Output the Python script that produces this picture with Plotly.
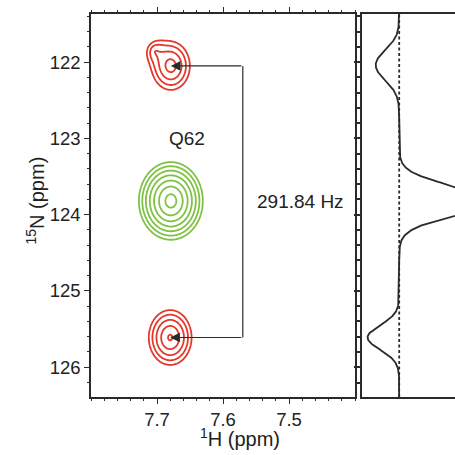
import numpy as np
import plotly.graph_objects as go

# ---- peak list (1H ppm, 15N ppm, amplitude, width 1H, width 15N) ----
peak_names = ["Q62 upper", "Q62 upper shoulder", "Q62 centre", "Q62 lower"]
peak_h = [7.679, 7.703, 7.679, 7.680]
peak_n = [122.05, 121.86, 123.82, 125.61]
peak_amp = [-0.62, -0.20, 2.50, -0.85]
peak_wh = [0.021, 0.013, 0.0233, 0.021]
peak_wn = [0.23, 0.13, 0.245, 0.233]
shape_power = 1.5

# 15N line widths seen in the 1D slice
slice_wn = [0.19, 0.12, 0.19, 0.16]

# spectrum window, ticks and contour levels
h_range = [7.8, 7.4]
n_range = [126.39, 121.37]
h_ticks = [7.7, 7.6, 7.5]
n_ticks = [122, 123, 124, 125, 126]
level_base = 0.125
level_factor = 1.59

# coupling bracket
bracket_h = 7.57
coupling_label = "291.84 Hz"
residue_label = "Q62"

# 1D slice taken through the 15N dimension
slice_h = 7.68

RED = "#e2392b"
GREEN = "#7fc243"
INK = "#2a2a2a"

h = np.linspace(7.4, 7.8, 401)
n = np.linspace(121.3, 126.45, 700)
H, N = np.meshgrid(h, n)


def lineshape(hh, nn, i):
    r2 = ((hh - peak_h[i]) / peak_wh[i]) ** 2 + ((nn - peak_n[i]) / peak_wn[i]) ** 2
    return peak_amp[i] * np.exp(-r2 ** (shape_power / 2))


pos = np.zeros_like(H)
neg = np.zeros_like(H)
for i in range(len(peak_amp)):
    s = lineshape(H, N, i)
    if peak_amp[i] > 0:
        pos += s
    else:
        neg -= s

fig = go.Figure()

levels = dict(start=np.log(level_base), end=np.log(3.0), size=np.log(level_factor))
for z, col in [(neg, RED), (pos, GREEN)]:
    fig.add_trace(go.Contour(
        x=h, y=n, z=np.log(z + 1e-12),
        contours=dict(coloring="lines", **levels),
        colorscale=[[0, col], [1, col]], showscale=False,
        line=dict(width=1.8, smoothing=1.0), hoverinfo="skip",
    ))

# 1D trace through the peaks
slice_vals = sum(
    peak_amp[i]
    * np.exp(-0.5 * ((slice_h - peak_h[i]) / peak_wh[i]) ** 2)
    * np.exp(-0.5 * ((n - peak_n[i]) / slice_wn[i]) ** 2)
    for i in range(len(peak_amp))
)
fig.add_trace(go.Scatter(x=slice_vals, y=n, mode="lines",
                         line=dict(color=INK, width=1.8),
                         xaxis="x2", yaxis="y2", hoverinfo="skip"))

# arrows from the bracket to the two red peak centres
for i in (0, 3):
    fig.add_annotation(x=peak_h[i], y=peak_n[i], ax=bracket_h, ay=peak_n[i],
                       xref="x", yref="y", axref="x", ayref="y",
                       showarrow=True, arrowhead=2, arrowsize=1.6,
                       arrowwidth=1.2, arrowcolor=INK, text="")
fig.add_shape(type="line", x0=bracket_h, x1=bracket_h, y0=peak_n[0], y1=peak_n[3],
              xref="x", yref="y", line=dict(color=INK, width=1.2))

fig.add_annotation(x=7.655, y=123.0, text=residue_label, showarrow=False,
                   xref="x", yref="y", font=dict(size=19, color="#222"))
fig.add_annotation(x=7.482, y=123.83, text=coupling_label, showarrow=False,
                   xref="x", yref="y", font=dict(size=19, color="#222"))

# zero line of the slice
fig.add_shape(type="line", x0=0, x1=0, y0=0, y1=1, xref="x2", yref="y2 domain",
              line=dict(color=INK, width=1.8, dash="3px,2.5px"))

# axis titles
fig.add_annotation(x=240 / 455, y=3 / 455, xref="paper", yref="paper",
                   yanchor="bottom", text="<sup>1</sup>H (ppm)", showarrow=False,
                   font=dict(size=20, color="#222"))
fig.add_annotation(x=20 / 455, y=1 - 201 / 455, xref="paper", yref="paper",
                   text="<sup>15</sup>N (ppm)", showarrow=False, textangle=-90,
                   font=dict(size=20, color="#222"))

axis_common = dict(showline=True, linecolor=INK, linewidth=1.5, showgrid=False,
                   zeroline=False, ticks="outside", tickcolor=INK, tickwidth=1.3,
                   tickfont=dict(size=18.5, color="#222"), automargin=False)

fig.update_layout(
    width=455, height=455, margin=dict(l=0, r=0, t=0, b=0),
    paper_bgcolor="white", plot_bgcolor="white", showlegend=False,
    font=dict(family="Liberation Sans, Arial, sans-serif"),
    xaxis=dict(domain=[91 / 455, 355 / 455], range=h_range, tickvals=h_ticks,
               ticktext=[f"{v:.1f}" for v in h_ticks], ticklen=5, mirror="ticks",
               minor=dict(dtick=0.02, tick0=7.5, ticks="outside", ticklen=2.5,
                          tickcolor=INK),
               **axis_common),
    yaxis=dict(domain=[1 - 397 / 455, 1 - 14 / 455], range=n_range, tickvals=n_ticks,
               ticktext=[str(v) for v in n_ticks], ticklen=5, mirror=True,
               minor=dict(dtick=0.2, tick0=122, ticks="outside", ticklen=2.5,
                          tickcolor=INK),
               **axis_common),
    xaxis2=dict(domain=[362 / 455, 1.0], range=[-1.0, 1.5], anchor="y2",
                showline=True, linecolor=INK, linewidth=1.5, mirror=True,
                showticklabels=False, ticks="", showgrid=False, zeroline=False),
    yaxis2=dict(domain=[1 - 397 / 455, 1 - 14 / 455], range=n_range, anchor="x2",
                matches="y", tickvals=n_ticks, ticklen=6, showticklabels=False,
                showline=True, linecolor=INK, linewidth=1.5, showgrid=False,
                zeroline=False, ticks="outside", tickcolor=INK, tickwidth=1.5,
                minor=dict(dtick=0.2, tick0=122, ticks="outside", ticklen=4,
                           tickcolor=INK)),
)

fig.write_html("out.html")
